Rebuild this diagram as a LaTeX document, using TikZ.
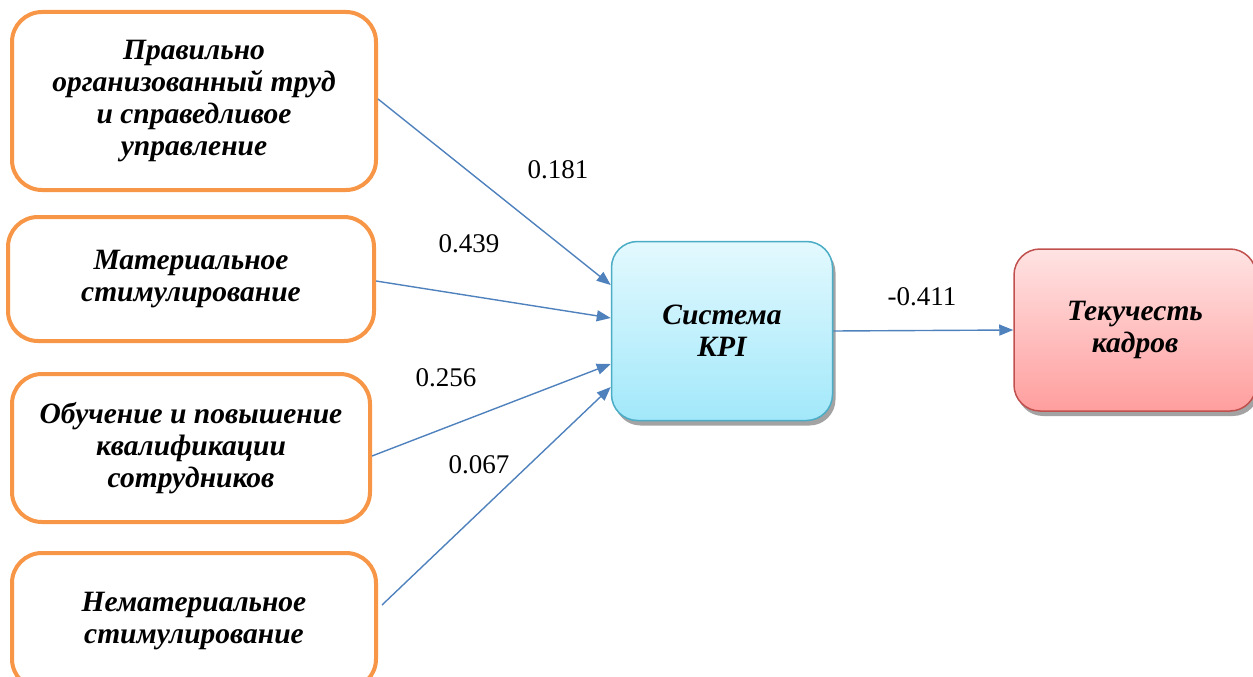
\documentclass[tikz,border=0pt]{standalone}
\usepackage{fontspec}
\setmainfont{Liberation Serif}
\usetikzlibrary{arrows.meta,shadows}
\definecolor{orangeb}{HTML}{F79646}
\definecolor{arrowc}{HTML}{4F81BD}
\definecolor{kpiborder}{HTML}{4BACC6}
\definecolor{kpitop}{HTML}{E3F9FE}
\definecolor{kpibot}{HTML}{A2E8FA}
\definecolor{redborder}{HTML}{C0504D}
\definecolor{redtop}{HTML}{FFE3E3}
\definecolor{redbot}{HTML}{FF9E9E}
\tikzset{
  boxfont/.style={font=\fontsize{29.5}{31.7}\selectfont\bfseries\itshape},
  srcbox/.style={draw=orangeb, line width=4pt, rounded corners=30pt, fill=white,
    align=center, boxfont},
  kpibox/.style={draw=kpiborder, line width=1.5pt, rounded corners=26pt,
    top color=kpitop, bottom color=kpibot,
    drop shadow={shadow xshift=3pt, shadow yshift=-5pt, fill=black!45, opacity=0.8},
    align=center, boxfont},
  redbox/.style={draw=redborder, line width=1.5pt, rounded corners=26pt,
    top color=redtop, bottom color=redbot,
    drop shadow={shadow xshift=3pt, shadow yshift=-5pt, fill=black!45, opacity=0.8},
    align=center, boxfont},
  conn/.style={draw=arrowc, line width=1.4pt, -{Triangle[length=14pt,width=11pt]}},
  coef/.style={font=\fontsize{27}{30}\selectfont}
}
\begin{document}
\begin{tikzpicture}[x=1pt,y=-1pt]
\useasboundingbox (0,0) rectangle (1253,677);
\node[srcbox, minimum width=364pt, minimum height=178pt] (b1) at (194,101)
  {Правильно\\организованный труд\\и справедливое\\управление};
\node[srcbox, minimum width=366pt, minimum height=124pt] (b2) at (191,279)
  {Материальное\\стимулирование};
\node[srcbox, minimum width=358pt, minimum height=148pt] (b3) at (191,448)
  {Обучение и повышение\\квалификации\\сотрудников};
\node[srcbox, minimum width=364pt, minimum height=136pt] (b4) at (194,621)
  {Нематериальное\\стимулирование};
\node[kpibox, minimum width=221pt, minimum height=179pt] (kpi) at (722,331)
  {Система\\KPI};
\node[redbox, minimum width=242pt, minimum height=162pt] (tk) at (1135,330)
  {Текучесть\\кадров};
\draw[conn] ([yshift=2pt]b1.east) -- ([yshift=46pt]kpi.west);
\draw[conn] ([yshift=-2pt]b2.east) -- ([yshift=13pt]kpi.west);
\draw[conn] ([yshift=-8pt]b3.east) -- ([yshift=-33pt]kpi.west);
\draw[conn] ([yshift=16pt,xshift=4pt]b4.east) -- ([yshift=-56pt]kpi.west);
\draw[conn] (kpi.east) -- (tk.west);
\node[coef] (c1) at (558,170) {0.181};
\node[coef] (c2) at (469,244) {0.439};
\node[coef] (c3) at (446,378) {0.256};
\node[coef] (c4) at (479,465) {0.067};
\node[coef] (c5) at (922,297) {-0.411};
\end{tikzpicture}
\end{document}
